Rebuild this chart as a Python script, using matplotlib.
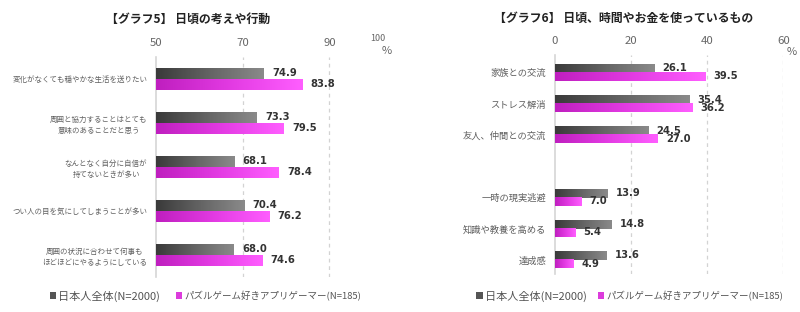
import matplotlib
matplotlib.use('Agg')
import matplotlib.pyplot as plt
import numpy as np
from matplotlib.colors import LinearSegmentedColormap
from matplotlib.patches import Patch

plt.rcParams['font.family'] = ['Noto Sans CJK JP', 'DejaVu Sans']

# ---------------- data ----------------
left_title = '【グラフ5】 日頃の考えや行動'
left_categories = ['変化がなくても穏やかな生活を送りたい',
                   '周囲と協力することはとても\n意味のあることだと思う',
                   'なんとなく自分に自信が\n持てないときが多い',
                   'つい人の目を気にしてしまうことが多い',
                   '周囲の状況に合わせて何事も\nほどほどにやるようにしている']
left_all = [74.9, 73.3, 68.1, 70.4, 68.0]
left_gamers = [83.8, 79.5, 78.4, 76.2, 74.6]
left_ticks = [50, 70, 90]

right_title = '【グラフ6】 日頃、時間やお金を使っているもの'
right_categories = ['家族との交流', 'ストレス解消', '友人、仲間との交流',
                    '一時の現実逃避', '知識や教養を高める', '達成感']
right_all = [26.1, 35.4, 24.5, 13.9, 14.8, 13.6]
right_gamers = [39.5, 36.2, 27.0, 7.0, 5.4, 4.9]
right_ticks = [0, 20, 40, 60]

series_names = ['日本人全体(N=2000)', 'パズルゲーム好きアプリゲーマー(N=185)']

# ---------------- style ----------------
W, H = 800, 312
fig = plt.figure(figsize=(W / 100, H / 100), dpi=100)

cmap_dark = LinearSegmentedColormap.from_list('dk', ['#3a3a3a', '#646464', '#8a8a8a'])
cmap_mag = LinearSegmentedColormap.from_list('mg', ['#bf1fbf', '#e23ae2', '#ff5eff'])
legend_dark = '#555555'
legend_mag = '#dc3cdc'
grid_col = '#d3d3d3'
text_col = '#606060'
val_col = '#333333'


def gradient_bars(ax, bars, cmap):
    grad = np.linspace(0, 1, 128).reshape(1, -1)
    for p in bars:
        x0, y0 = p.get_x(), p.get_y()
        w, h = p.get_width(), p.get_height()
        ax.imshow(grad, extent=[x0, x0 + w, y0 + h, y0], cmap=cmap,
                  aspect='auto', zorder=3, interpolation='bilinear')
        p.set_facecolor('none')
        p.set_edgecolor('none')


def draw_panel(rect, cats, pos, s1, s2, ticks, xmin, xmax, ylim, bh,
               label_size, label_pad):
    ax = fig.add_axes(rect)
    pos = np.array(pos, dtype=float)
    s1 = np.array(s1)
    s2 = np.array(s2)
    b1 = ax.barh(pos - bh / 2, s1 - xmin, left=xmin, height=bh, zorder=3)
    b2 = ax.barh(pos + bh / 2, s2 - xmin, left=xmin, height=bh, zorder=3)
    gradient_bars(ax, b1, cmap_dark)
    gradient_bars(ax, b2, cmap_mag)
    for ys, vals in [(pos - bh / 2, s1), (pos + bh / 2, s2)]:
        for y, v in zip(ys, vals):
            ax.annotate(f'{v:.1f}', xy=(v, y), xytext=(5.8, 0.3),
                        textcoords='offset points', ha='left', va='center',
                        fontsize=7.2, fontweight='bold', color=val_col,
                        family='DejaVu Sans', zorder=5)
    for t in ticks[1:]:
        ax.axvline(t, color=grid_col, lw=0.9, ls=(0, (3, 3)), zorder=1)
    ax.set_xlim(xmin, xmax)
    ax.set_ylim(*ylim)
    ax.xaxis.tick_top()
    ax.set_xticks(ticks)
    ax.set_xticklabels([str(t) for t in ticks])
    ax.tick_params(axis='x', length=0, pad=6.5, labelsize=8.2, labelcolor='#666666')
    ax.set_yticks(pos)
    ax.set_yticklabels(cats)
    ax.tick_params(axis='y', length=0, pad=label_pad, labelsize=label_size,
                   labelcolor=text_col)
    for t in ax.get_yticklabels():
        t.set_multialignment('center')
        t.set_linespacing(1.55)
    for s in ['top', 'right', 'bottom']:
        ax.spines[s].set_visible(False)
    ax.spines['left'].set_color('#d6d6d6')
    ax.spines['left'].set_linewidth(1.2)
    ax.set_facecolor('none')
    return ax


# left panel
ax1 = draw_panel([156.3 / W, 1 - 277 / H, 216.3 / W, 220 / H],
                 left_categories, range(len(left_categories)),
                 left_all, left_gamers, left_ticks, 50, 100,
                 (4.5, -0.5), 0.25, 5.4, 6.5)
ax1.annotate('100', xy=(100, 1), xycoords=('data', 'axes fraction'),
             xytext=(3.9, 13), textcoords='offset points', ha='center',
             va='center', fontsize=6.5, color='#666666')
ax1.annotate('%', xy=(100, 1), xycoords=('data', 'axes fraction'),
             xytext=(10.4, 4), textcoords='offset points', ha='center',
             va='center', fontsize=8, color='#666666')

# right panel (one empty slot between 3rd and 4th category)
right_pos = [0, 1, 2, 4, 5, 6]
ax2 = draw_panel([555 / W, 1 - 274 / H, 228.3 / W, 219 / H],
                 right_categories, right_pos,
                 right_all, right_gamers, right_ticks, 0, 60,
                 (6.45, -0.57), 0.26, 6.7, 6.5)
ax2.annotate('%', xy=(60, 1), xycoords=('data', 'axes fraction'),
             xytext=(6, 2.4), textcoords='offset points', ha='center',
             va='center', fontsize=8, color='#666666')

# titles
fig.text(188 / W, 1 - 19 / H, left_title, ha='center', va='center',
         fontsize=8.6, fontweight='bold', color='#222222')
fig.text(624 / W, 1 - 18.5 / H, right_title, ha='center', va='center',
         fontsize=8.6, fontweight='bold', color='#222222')

# legends
handles = [Patch(facecolor=legend_dark, edgecolor='none'),
           Patch(facecolor=legend_mag, edgecolor='none')]
for x_anchor, colsp in [(49.5 / W, 1.5), (476.5 / W, 1.0)]:
    leg = fig.legend(handles, series_names, loc='center left',
                     bbox_to_anchor=(x_anchor, 1 - 296 / H), ncol=2,
                     frameon=False, fontsize=8, labelcolor='#555555',
                     handlelength=0.55, handleheight=0.55, handletextpad=0.2,
                     columnspacing=colsp, borderpad=0, borderaxespad=0)
    leg.get_texts()[1].set_fontsize(6.8)

fig.savefig('out.png', dpi=100, facecolor='white')
